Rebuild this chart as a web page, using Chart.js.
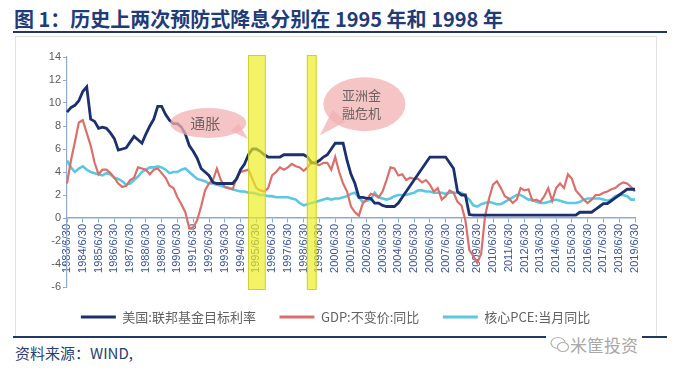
<!DOCTYPE html>
<html>
<head>
<meta charset="utf-8">
<script src="https://cdn.jsdelivr.net/npm/chart.js@4.4.1/dist/chart.umd.min.js"></script>
<style>
  body { margin: 0; width: 673px; height: 384px; background: #fff; position: relative; overflow: hidden; }
  #title { position: absolute; left: 14px; top: 7px; font: bold 20px "Noto Sans CJK SC", sans-serif; color: #1f3b78; white-space: nowrap; line-height: 24px; }
  .rule { position: absolute; left: 13px; width: 654px; height: 2px; background: #1f3864; }
  #box { position: absolute; left: 15px; top: 36px; width: 640px; height: 299px; border: 1px solid #e2e2e2; border-bottom: none; }
  #wrap { position: absolute; left: 0; top: 40px; }
  #source { position: absolute; left: 15px; top: 342px; font: 15px "Noto Sans CJK SC", sans-serif; color: #2b3f70; }
  #mark { position: absolute; left: 546px; top: 332px; font: 17px "Noto Sans CJK SC", sans-serif; color: #a8a8a8; background: #fff; padding: 0 4px; display: flex; align-items: center; }
</style>
</head>
<body>
<div id="title">图 1：历史上两次预防式降息分别在 1995 年和 1998 年</div>
<div class="rule" style="top:31px"></div>
<div id="box"></div>
<div id="wrap"><canvas id="chart" width="673" height="296"></canvas></div>
<div class="rule" style="top:336px"></div>
<div id="source">资料来源：WIND,</div>
<div id="mark">
  <svg width="20" height="18" viewBox="0 0 20 18"><ellipse cx="8" cy="7" rx="7" ry="5.5" fill="none" stroke="#b0b0b0" stroke-width="1.2"/><ellipse cx="13" cy="11" rx="5.5" ry="4.5" fill="#fff" stroke="#b0b0b0" stroke-width="1.2"/></svg>
  <span>米筐投资</span>
</div>
<script>
// quarterly series, 1983/6/30 .. 2019/6/30
const fedRate = [
  9.2, 9.6, 9.8,
  10.2, 11.0, 11.4, 8.6,
  8.4, 7.8, 7.9, 7.8,
  7.4, 6.9, 5.9, 6.0,
  6.1, 6.6, 7.1, 6.8,
  6.5, 7.3, 8.0, 8.6,
  9.7, 9.7, 9.0, 8.5,
  8.2, 8.2, 7.9, 7.3,
  6.3, 5.8, 5.2, 4.3,
  4.0, 3.7, 3.1, 3.0,
  3.0, 3.0, 3.0, 3.0,
  3.4, 4.2, 4.7, 5.5,
  6.0, 6.0, 5.8, 5.5,
  5.3, 5.3, 5.3, 5.3,
  5.5, 5.5, 5.5, 5.5,
  5.5, 5.5, 5.3, 4.8,
  4.8, 5.0, 5.3, 5.5,
  6.0, 6.5, 6.5, 6.5,
  5.0, 3.8, 3.0, 1.8,
  1.8, 1.7, 1.7, 1.3,
  1.3, 1.1, 1.0, 1.0,
  1.0, 1.3, 1.8, 2.3,
  2.8, 3.3, 3.8, 4.3,
  4.8, 5.3, 5.3, 5.3,
  5.3, 5.3, 4.8, 4.3,
  2.3, 2.0, 2.0, 0.3,
  0.25, 0.25, 0.25, 0.25,
  0.25, 0.25, 0.25, 0.25,
  0.25, 0.25, 0.25, 0.25,
  0.25, 0.25, 0.25, 0.25,
  0.25, 0.25, 0.25, 0.25,
  0.25, 0.25, 0.25, 0.25,
  0.25, 0.25, 0.25, 0.5,
  0.5, 0.5, 0.5, 0.75,
  1.0, 1.25, 1.25, 1.5,
  1.75, 2.0, 2.25, 2.5,
  2.5, 2.5
];

const gdpYoY = [
  3.0, 5.0, 6.6,
  8.3, 8.5, 7.4, 6.3,
  4.8, 3.8, 4.2, 4.2,
  3.9, 3.5, 3.0, 2.7,
  2.8, 3.3, 3.5, 4.4,
  4.3, 4.2, 3.8, 4.2,
  4.3, 3.9, 3.5, 2.8,
  2.6, 1.8, 1.2, 0.5,
  -0.9, -0.8, -0.2, 1.0,
  2.4, 3.0, 3.3, 4.3,
  3.3, 2.7, 2.6, 2.5,
  3.5, 4.0, 4.1, 4.2,
  3.4, 2.6, 2.4, 2.3,
  2.6, 3.7, 4.0, 4.4,
  4.2, 4.4, 4.7, 4.5,
  4.4, 4.1, 4.4, 4.9,
  4.7, 4.6, 4.8, 4.8,
  4.2, 5.3, 4.0, 3.0,
  2.3, 1.0, 0.5, 0.2,
  1.3, 1.6, 2.1, 2.0,
  1.8, 2.3, 3.3, 4.4,
  4.3, 3.7, 3.8, 3.3,
  3.5, 3.4, 3.4, 3.1,
  3.3, 2.9, 2.3, 2.6,
  1.6, 1.9, 2.4, 2.2,
  1.4, 1.1, -0.2, -2.8,
  -3.3, -3.9, -3.1, 0.2,
  1.7, 2.9, 3.2, 2.6,
  1.9, 1.7, 1.3, 1.6,
  2.6, 2.4, 2.5, 1.5,
  1.6, 1.4, 1.9, 2.6,
  1.5, 2.6, 3.0, 2.6,
  3.8, 3.4, 2.4, 2.0,
  1.6, 1.3, 1.6, 2.0,
  2.0, 2.2, 2.3, 2.5,
  2.6, 2.9, 3.1, 3.0,
  2.7, 2.3
];

const corePce = [
  5.0, 4.4, 4.0,
  4.3, 4.5, 4.2, 4.0,
  3.9, 3.8, 3.7, 3.9,
  3.8, 3.5, 3.4, 3.2,
  2.9, 3.0, 3.3, 3.6,
  4.0, 4.2, 4.4, 4.4,
  4.5, 4.4, 4.2, 3.9,
  4.0, 4.0, 4.2, 4.3,
  4.0, 3.7, 3.4, 3.3,
  3.2, 3.0, 3.0, 2.9,
  2.8, 2.7, 2.6, 2.5,
  2.4, 2.3, 2.3, 2.2,
  2.2, 2.1, 2.0, 2.0,
  1.9, 1.9, 1.8, 1.8,
  1.8, 1.8, 1.7, 1.6,
  1.3, 1.1, 1.2, 1.3,
  1.4, 1.5, 1.6, 1.7,
  1.6, 1.7, 1.7, 1.8,
  1.9, 2.1, 2.2, 1.8,
  1.4, 1.5, 1.6, 2.2,
  1.8, 1.7, 1.6, 1.7,
  1.9, 2.0, 2.0, 2.0,
  2.1, 2.2, 2.4, 2.4,
  2.3, 2.3, 2.2, 2.2,
  2.2, 2.1, 2.2, 2.2,
  2.2, 2.2, 1.9, 1.6,
  1.1, 1.0, 1.2, 1.3,
  1.4, 1.3, 1.2, 1.2,
  1.4, 1.6, 1.8, 2.0,
  2.0, 1.8, 1.6, 1.6,
  1.4, 1.3, 1.3, 1.4,
  1.5, 1.6, 1.5, 1.4,
  1.3, 1.3, 1.3, 1.4,
  1.6, 1.7, 1.7, 1.7,
  1.7, 1.6, 1.5, 1.6,
  1.9, 2.0, 2.0, 1.9,
  1.6, 1.6
];

const seriesNames = ['美国:联邦基金目标利率', 'GDP:不变价:同比', '核心PCE:当月同比'];
const yTicks = [-6, -4, -2, 0, 2, 4, 6, 8, 10, 12, 14];

// quarter-end dates for the category axis
const quarterEnds = ['3/31', '6/30', '9/30', '12/31'];
let quarterLabels = [];
for (let y = 1983; y <= 2019; y++) {
  for (let q = 0; q < quarterEnds.length; q++) quarterLabels.push(y + '/' + quarterEnds[q]);
}
quarterLabels = quarterLabels.slice(1, 146);

// highlighted easing periods (category index ranges) and callouts
const easingBands = [[45.9, 50.4], [60.8, 63.3]];
const callouts = [
  { lines: ['通胀'], at: [35.8, 8.26], tip: [45.9, 6.87], rx: 38, ry: 15, size: 15 },
  { lines: ['亚洲金', '融危机'], at: [75.4, 9.9], tip: [64.1, 7.2], rx: 41, ry: 27, size: 13 }
];

const navy = '#1c2f6e';
const red = '#d9706c';
const cyan = '#5cc7e3';
const axisColor = '#93abcb';
const cjk = '"Noto Sans CJK SC", sans-serif';

Chart.defaults.font.family = '"Liberation Sans", "Noto Sans CJK SC", sans-serif';

const overlays = {
  id: 'overlays',
  afterDraw(chart) {
    const ctx = chart.ctx;
    const xs = chart.scales.x, ys = chart.scales.y;
    const area = chart.chartArea;

    // callout bubbles
    callouts.forEach(c => {
      const cx = xs.getPixelForValue(c.at[0]), cy = ys.getPixelForValue(c.at[1]);
      const tx = xs.getPixelForValue(c.tip[0]), ty = ys.getPixelForValue(c.tip[1]);
      const ang = Math.atan2(ty - cy, tx - cx);
      ctx.save();
      ctx.fillStyle = 'rgba(242, 178, 178, 0.75)';
      ctx.beginPath();
      ctx.ellipse(cx, cy, c.rx, c.ry, 0, 0, Math.PI * 2);
      ctx.fill();
      ctx.beginPath();
      ctx.moveTo(cx + Math.cos(ang - 0.35) * c.rx * 0.8, cy + Math.sin(ang - 0.35) * c.ry * 0.8);
      ctx.lineTo(tx, ty);
      ctx.lineTo(cx + Math.cos(ang + 0.35) * c.rx * 0.8, cy + Math.sin(ang + 0.35) * c.ry * 0.8);
      ctx.closePath();
      ctx.fill();
      ctx.fillStyle = '#6e6262';
      ctx.font = c.size + 'px ' + cjk;
      ctx.textAlign = 'center';
      ctx.textBaseline = 'middle';
      const lh = c.size * 1.35;
      c.lines.forEach((t, i) => {
        ctx.fillText(t, cx - 3, cy + (i - (c.lines.length - 1) / 2) * lh);
      });
      ctx.restore();
    });

    // yellow bands over everything
    easingBands.forEach(b => {
      const x0 = xs.getPixelForValue(b[0]), x1 = xs.getPixelForValue(b[1]);
      ctx.save();
      ctx.fillStyle = 'rgba(236, 238, 30, 0.68)';
      ctx.fillRect(x0, area.top - 2, x1 - x0, area.bottom - area.top + 5);
      ctx.strokeStyle = 'rgba(200, 200, 40, 0.8)';
      ctx.lineWidth = 1;
      ctx.strokeRect(x0 + 0.5, area.top - 1.5, x1 - x0 - 1, area.bottom - area.top + 4);
      ctx.restore();
    });
  }
};

new Chart(document.getElementById('chart'), {
  type: 'line',
  data: {
    labels: quarterLabels,
    datasets: [
      { label: seriesNames[0], data: fedRate, borderColor: navy, backgroundColor: navy, borderWidth: 2.8 },
      { label: seriesNames[1], data: gdpYoY, borderColor: red, backgroundColor: red, borderWidth: 2.2 },
      { label: seriesNames[2], data: corePce, borderColor: cyan, backgroundColor: cyan, borderWidth: 2.6 }
    ]
  },
  options: {
    responsive: false,
    animation: false,
    devicePixelRatio: 1,
    layout: { padding: { top: 17, right: 38, bottom: 2.5, left: 36 } },
    elements: { point: { radius: 0 }, line: { tension: 0 } },
    plugins: {
      tooltip: { enabled: false },
      legend: {
        position: 'bottom',
        labels: {
          boxWidth: 35,
          boxHeight: 3,
          padding: 23.5,
          color: '#626262',
          font: { size: 13, family: cjk },
          generateLabels(chart) {
            return Chart.defaults.plugins.legend.labels.generateLabels(chart).map(l => {
              l.lineWidth = 0;
              l.fillStyle = l.strokeStyle;
              return l;
            });
          }
        }
      }
    },
    scales: {
      x: {
        type: 'category',
        position: { y: 0 },
        offset: false,
        grid: {
          drawOnChartArea: false,
          tickLength: 4,
          color: c => (c.index % 4 === 0 ? axisColor : 'rgba(0,0,0,0)')
        },
        border: { color: axisColor, width: 1.5 },
        ticks: {
          autoSkip: false,
          minRotation: 90,
          maxRotation: 90,
          padding: 2,
          color: '#3d5594',
          font: { size: 11 },
          callback(v, i) { return i % 4 === 0 ? this.getLabelForValue(v) : ''; }
        }
      },
      y: {
        min: yTicks[0],
        max: yTicks[yTicks.length - 1],
        afterBuildTicks(scale) { scale.ticks = yTicks.map(v => ({ value: v })); },
        afterFit(scale) { scale.width = 31; },
        grid: { drawOnChartArea: false, tickLength: 4, color: axisColor },
        border: { color: axisColor, width: 1.2 },
        ticks: { color: '#5a5a5a', font: { size: 11 }, padding: 2 }
      }
    }
  },
  plugins: [overlays]
});
</script>
</body>
</html>
